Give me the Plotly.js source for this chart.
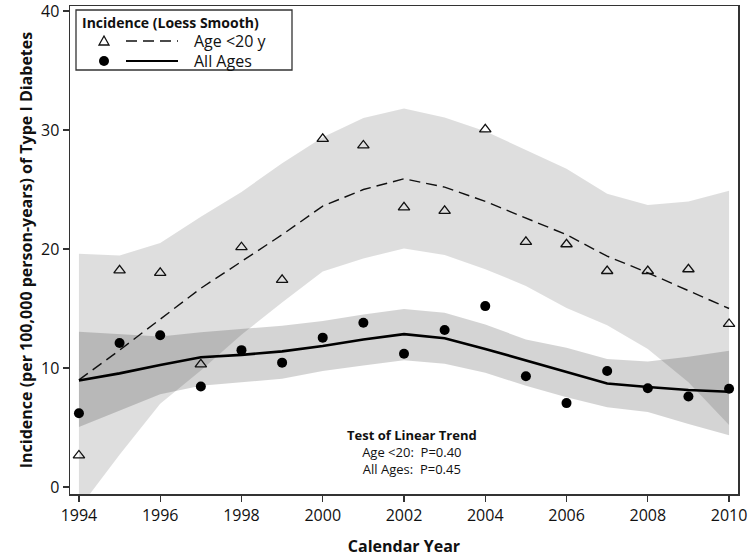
<!DOCTYPE html>
<html>
<head>
<meta charset="utf-8">
<script src="https://cdn.plot.ly/plotly-3.0.1.min.js"></script>
<style>html,body{margin:0;padding:0;background:#fff;}#chart{width:750px;height:557px;}</style>
</head>
<body>
<div id="chart"></div>
<script>
// ---- data ----
const years = [1994,1995,1996,1997,1998,1999,2000,2001,2002,2003,2004,2005,2006,2007,2008,2009,2010];
const age20Obs = [2.65,18.2,18.0,10.3,20.15,17.4,29.25,28.7,23.5,23.2,30.05,20.6,20.4,18.15,18.15,18.3,13.7];
const allObs   = [6.2,12.1,12.75,8.45,11.5,10.45,12.55,13.8,11.2,13.2,15.2,9.3,7.05,9.75,8.3,7.6,8.25];
const age20Fit = [9.0,11.5,14.1,16.7,18.95,21.2,23.6,25.0,25.9,25.2,24.0,22.6,21.2,19.4,18.0,16.5,15.0];
const allFit   = [8.95,9.55,10.25,10.9,11.1,11.4,11.85,12.4,12.85,12.5,11.6,10.65,9.7,8.7,8.4,8.15,8.0];
const age20Upper = [19.6,19.45,20.5,22.7,24.8,27.2,29.4,31.0,31.8,31.05,29.9,28.3,26.75,24.65,23.7,24.0,24.9];
const age20Lower = [-1.8,2.7,7.0,9.8,12.8,15.5,18.1,19.2,20.05,19.5,18.3,16.9,15.05,13.6,11.6,8.8,5.2];
const allUpper = [13.05,12.85,12.65,13.0,13.25,13.55,13.95,14.5,14.95,14.65,13.65,12.4,11.7,10.75,10.55,10.95,11.45];
const allLower = [5.05,6.45,7.8,8.5,8.8,9.1,9.75,10.2,10.65,10.35,9.6,8.5,7.55,6.7,6.3,5.3,4.35];
const xTicks = [1994,1996,1998,2000,2002,2004,2006,2008,2010];
const yTicks = [0,10,20,30,40];
const legendTitle = 'Incidence (Loess Smooth)';
const legendLabels = ['Age <20 y','All Ages'];
const trendTitle = 'Test of Linear Trend';
const trendLines = ['Age <20:\u00a0\u00a0P=0.40','All Ages:\u00a0\u00a0P=0.45'];

const FONT = 'Open Sans, DejaVu Sans, sans-serif';
const rev = a => a.slice().reverse();

const traces = [
  { // Age<20 confidence band
    x: years.concat(rev(years)), y: age20Upper.concat(rev(age20Lower)),
    type:'scatter', mode:'lines', fill:'toself', fillcolor:'rgba(0,0,0,0.13)',
    line:{width:0, color:'rgba(0,0,0,0)'}, hoverinfo:'skip'
  },
  { // All ages confidence band
    x: years.concat(rev(years)), y: allUpper.concat(rev(allLower)),
    type:'scatter', mode:'lines', fill:'toself', fillcolor:'rgba(0,0,0,0.17)',
    line:{width:0, color:'rgba(0,0,0,0)'}, hoverinfo:'skip'
  },
  { x: years, y: age20Fit, type:'scatter', mode:'lines',
    line:{color:'#111', width:1.4, dash:'11px,6px'} },
  { x: years, y: allFit, type:'scatter', mode:'lines',
    line:{color:'#000', width:2.6} },
  { x: years, y: age20Obs, type:'scatter', mode:'markers',
    marker:{symbol:'triangle-up-open', size:10, color:'#111', line:{width:1.3, color:'#111'}} },
  { x: years, y: allObs, type:'scatter', mode:'markers',
    marker:{symbol:'circle', size:10, color:'#000'} }
];

// pixel->paper helpers for the hand-drawn legend box
const PL=70, PR=738, PT=6, PB=494;
const px = v => (v-PL)/(PR-PL);
const py = v => (PB-v)/(PB-PT);

const shapes = [
  {type:'rect', xref:'paper', yref:'paper', x0:px(76), x1:px(292), y0:py(70), y1:py(10),
   line:{color:'#333', width:1.3}, fillcolor:'rgba(255,255,255,0)'},
  {type:'line', xref:'paper', yref:'paper', x0:px(126), x1:px(178), y0:py(41), y1:py(41),
   line:{color:'#111', width:1.4, dash:'11px,6px'}},
  {type:'line', xref:'paper', yref:'paper', x0:px(126), x1:px(178), y0:py(61), y1:py(61),
   line:{color:'#000', width:2.2}},
  {type:'path', xref:'paper', yref:'paper', xsizemode:'pixel', ysizemode:'pixel',
   xanchor:px(104), yanchor:py(41), path:'M -5 -4 L 5 -4 L 0 5 Z',
   line:{color:'#111', width:1.3}, fillcolor:'rgba(255,255,255,0)'},
  {type:'circle', xref:'paper', yref:'paper', xsizemode:'pixel', ysizemode:'pixel',
   xanchor:px(104), yanchor:py(61), x0:-5, x1:5, y0:-5, y1:5,
   line:{color:'#000', width:0}, fillcolor:'#000'}
];

const annotations = [
  {xref:'paper', yref:'paper', x:px(80), y:py(22), xanchor:'left', yanchor:'middle', showarrow:false,
   text:'<b>'+legendTitle+'</b>', font:{family:FONT, size:14, color:'#111'}},
  {xref:'paper', yref:'paper', x:px(192), y:py(41), xanchor:'left', yanchor:'middle', showarrow:false,
   text:legendLabels[0], font:{family:FONT, size:16, color:'#111'}},
  {xref:'paper', yref:'paper', x:px(192), y:py(61), xanchor:'left', yanchor:'middle', showarrow:false,
   text:legendLabels[1], font:{family:FONT, size:16, color:'#111'}},
  {xref:'paper', yref:'paper', x:px(412), y:py(451.5), xanchor:'center', yanchor:'middle', showarrow:false,
   align:'center',
   text:'<b>'+trendTitle+'</b><br>'+trendLines[0]+'<br>'+trendLines[1],
   font:{family:FONT, size:13, color:'#111'}}
];

const layout = {
  width:750, height:557,
  margin:{l:PL, r:750-PR, t:PT, b:557-PB, pad:0},
  paper_bgcolor:'#fff', plot_bgcolor:'#fff',
  showlegend:false,
  font:{family:FONT, color:'#111'},
  xaxis:{
    range:[1993.78, 2010.22], tickvals:xTicks, ticktext:xTicks.map(String),
    ticks:'outside', ticklen:6, tickwidth:1.3, tickcolor:'#333',
    showline:true, linecolor:'#333', linewidth:1.5, mirror:true,
    showgrid:false, zeroline:false, ticklabeloverflow:'allow',
    tickfont:{family:FONT, size:16, color:'#111'},
    title:{text:'<b>Calendar Year</b>', font:{family:FONT, size:16, color:'#111'}, standoff:20}
  },
  yaxis:{
    range:[-0.588, 40.42], tickvals:yTicks, ticktext:yTicks.map(String),
    ticks:'outside', ticklen:6, tickwidth:1.3, tickcolor:'#333',
    showline:true, linecolor:'#333', linewidth:1.5, mirror:true,
    showgrid:false, zeroline:false, ticklabeloverflow:'allow',
    tickfont:{family:FONT, size:16, color:'#111'},
    title:{text:'<b>Incidence (per 100,000 person-years) of Type I Diabetes</b>', font:{family:FONT, size:16, color:'#111'}, standoff:4}
  },
  shapes:shapes,
  annotations:annotations
};

Plotly.newPlot('chart', traces, layout, {displayModeBar:false, staticPlot:true});
</script>
</body>
</html>
